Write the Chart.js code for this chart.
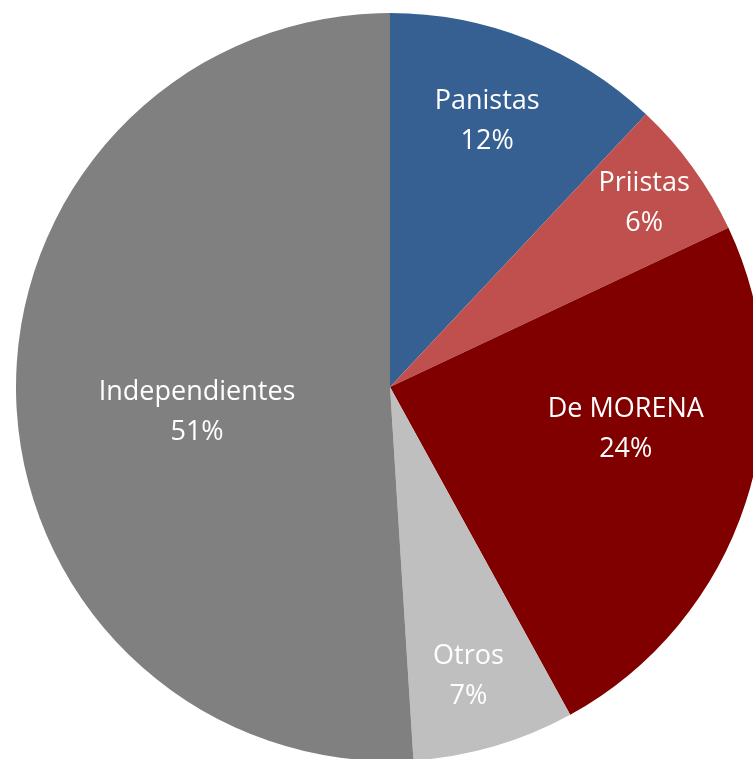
<!DOCTYPE html>
<html>
<head>
<meta charset="utf-8">
<script src="https://cdn.jsdelivr.net/npm/chart.js@4.4.1/dist/chart.umd.min.js"></script>
<style>
  html, body { margin: 0; padding: 0; background: #fff; overflow: hidden; width: 753px; height: 759px; }
  #wrap { position: absolute; left: 16px; top: 13px; width: 748px; height: 748px; }
</style>
</head>
<body>
<div id="wrap"><canvas id="pie-chart"></canvas></div>
<script>
const categories = ['Panistas', 'Priistas', 'De MORENA', 'Otros', 'Independientes'];
const shares = [12, 6, 24, 7, 51];
const sliceColors = ['#366092', '#C0504D', '#800000', '#BFBFBF', '#808080'];

// where each label sits inside its slice (fraction of radius, angle nudge in degrees)
const labelRadius = [0.76, 0.84, 0.64, 0.80, 0.52];
const labelNudge = [-1.6, 0, -8, 1, -5.4];

const sliceLabels = {
    id: 'sliceLabels',
    afterDatasetsDraw(chart) {
        const ctx = chart.ctx;
        const arcs = chart.getDatasetMeta(0).data;
        ctx.save();
        ctx.fillStyle = '#ffffff';
        ctx.font = '27px "Open Sans", "Noto Sans", sans-serif';
        ctx.textAlign = 'center';
        ctx.textBaseline = 'middle';
        arcs.forEach((arc, i) => {
            const mid = (arc.startAngle + arc.endAngle) / 2 + labelNudge[i] * Math.PI / 180;
            const r = arc.outerRadius * labelRadius[i];
            const x = arc.x + Math.cos(mid) * r;
            const y = arc.y + Math.sin(mid) * r;
            ctx.fillText(categories[i], x, y - 19);
            ctx.fillText(shares[i] + '%', x, y + 21);
        });
        ctx.restore();
    }
};

const pieChart = document.getElementById('pie-chart').getContext('2d');
new Chart(pieChart, {
    type: 'pie',
    data: {
        labels: categories,
        datasets: [{
            data: shares,
            backgroundColor: sliceColors,
            borderWidth: 0
        }]
    },
    options: {
        responsive: true,
        maintainAspectRatio: false,
        animation: false,
        layout: { padding: 0 },
        plugins: {
            legend: { display: false },
            tooltip: { enabled: false }
        }
    },
    plugins: [sliceLabels]
});
</script>
</body>
</html>
